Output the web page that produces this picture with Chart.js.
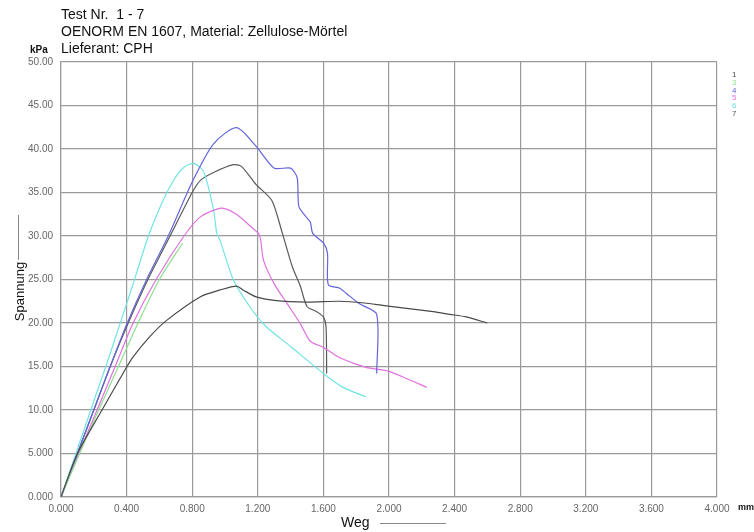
<!DOCTYPE html>
<html>
<head>
<meta charset="utf-8">
<script src="https://cdn.jsdelivr.net/npm/chart.js@4"></script>
<style>
  body { margin: 0; background: #fff; }
  #wrap { position: relative; width: 754px; height: 532px; font-family: "Liberation Sans", Arial, sans-serif; }
  #chart { position: absolute; left: 0; top: 0; }
  .t { position: absolute; white-space: nowrap; color: #111; }
  .leg { position: absolute; left: 732px; font-size: 8px; line-height: 8px; }
</style>
</head>
<body>
<div id="wrap">
  <canvas id="chart" width="754" height="532"></canvas>
  <div class="t" style="left:61px;top:6px;font-size:14px;">Test Nr.&nbsp; 1 - 7</div>
  <div class="t" style="left:61px;top:23px;font-size:14px;">OENORM EN 1607, Material: Zellulose-Mörtel</div>
  <div class="t" style="left:61px;top:40px;font-size:14px;">Lieferant: CPH</div>
  <div class="t" style="left:30px;top:44px;font-size:10px;font-weight:bold;">kPa</div>
  <div class="t" style="left:738px;top:502px;font-size:9px;font-weight:bold;">mm</div>
  <div class="t" style="left:341px;top:514px;font-size:14px;">Weg</div>
  <div style="position:absolute;left:380px;top:523px;width:66px;height:1px;background:#888;"></div>
  <div class="t" style="left:-10px;top:284px;font-size:13px;transform:rotate(-90deg);">Spannung</div>
  <div style="position:absolute;left:18px;top:215px;width:1px;height:45px;background:#888;"></div>
  <div id="legend"></div>
</div>
<script>
// Weg (mm) / Spannung (kPa) pairs
const test1 = [[0,0],[0.1,5],[0.25,10],[0.39,14.6],[0.44,16.1],[0.54,18.4],[0.644,20.3],[0.848,23.0],[0.97,23.8],[1.07,24.25],[1.11,23.8],[1.19,23.0],[1.3,22.6],[1.5,22.4],[1.7,22.5],[1.85,22.3],[1.97,22.0],[2.27,21.3],[2.37,21.0],[2.47,20.7],[2.6,20.0]];
const test3 = [[0,0],[0.1,4.4],[0.23,10],[0.35,15],[0.47,20],[0.6,25],[0.742,29.2]];
const test4 = [[0,0],[0.1,5],[0.2,10],[0.3,15],[0.404,20],[0.522,25],[0.654,30],[0.8,36.2],[0.93,40.6],[1.07,42.45],[1.19,40.3],[1.3,37.8],[1.4,37.8],[1.44,36.7],[1.45,33.4],[1.49,32.3],[1.52,31.6],[1.535,30.3],[1.6,29.2],[1.625,28],[1.63,24.4],[1.7,24.0],[1.74,23.4],[1.82,22.2],[1.925,21.0],[1.925,14.2]];
const test5 = [[0,0],[0.1,4.6],[0.22,10],[0.33,15],[0.44,20],[0.58,25],[0.75,30],[0.85,32.2],[0.98,33.2],[1.07,32.5],[1.15,31.2],[1.21,30.1],[1.235,27.2],[1.3,24.5],[1.38,22.2],[1.46,19.9],[1.52,17.9],[1.6,17.2],[1.7,16.0],[1.86,14.9],[1.99,14.5],[2.11,13.6],[2.23,12.6]];
const test6 = [[0,0],[0.1,5.5],[0.2,11],[0.3,16.5],[0.37,20.5],[0.44,24.5],[0.533,30],[0.62,34],[0.69,36.5],[0.75,37.9],[0.81,38.35],[0.87,37.4],[0.93,33.0],[0.95,30.3],[0.97,29.5],[1.05,25.0],[1.15,21.9],[1.25,19.6],[1.4,17.3],[1.6,14.2],[1.72,12.6],[1.86,11.5]];
const test7 = [[0,0],[0.1,5],[0.2,10],[0.3,15],[0.41,20],[0.53,25],[0.665,30],[0.8,35],[0.85,36.4],[0.93,37.3],[1.05,38.2],[1.1,38.0],[1.19,35.9],[1.285,34.1],[1.35,30.3],[1.41,26.5],[1.46,24.2],[1.5,21.9],[1.56,21.3],[1.6,20.7],[1.616,19.6],[1.62,14.2]];

const testNames = ["1", "3", "4", "5", "6", "7"];
const testData = [test1, test3, test4, test5, test6, test7];
const testColors = ["#4a4a4a", "#8fe08f", "#6464dc", "#e070e0", "#70e4e4", "#5a5a5a"];

const xTicks = [0, 0.4, 0.8, 1.2, 1.6, 2.0, 2.4, 2.8, 3.2, 3.6, 4.0];
const yTicks = [0, 5, 10, 15, 20, 25, 30, 35, 40, 45, 50];

// small coloured legend on the right
const leg = document.getElementById("legend");
testNames.forEach((n, i) => {
  const d = document.createElement("div");
  d.className = "leg";
  d.style.top = (71 + i * 7.8) + "px";
  d.style.color = testColors[i];
  d.textContent = n;
  leg.appendChild(d);
});

const gridColor = "#9a9a9a";
const tickFont = { family: "Liberation Sans", size: 10 };

new Chart(document.getElementById("chart").getContext("2d"), {
  type: "scatter",
  data: {
    datasets: testData.map((pts, i) => ({
      label: testNames[i],
      data: pts.map(p => ({ x: p[0], y: p[1] })),
      showLine: true,
      borderColor: testColors[i],
      borderWidth: 1.2,
      pointRadius: 0,
      tension: 0.25
    }))
  },
  options: {
    responsive: false,
    animation: false,
    layout: { padding: { top: 62, right: 37, left: 0, bottom: 0 } },
    plugins: { legend: { display: false }, tooltip: { enabled: false } },
    scales: {
      x: {
        type: "linear", min: 0, max: 4,
        afterBuildTicks: s => { s.ticks = xTicks.map(v => ({ value: v })); },
        afterFit: s => { s.height = 35; },
        grid: { color: gridColor, lineWidth: 1.2, drawTicks: false },
        border: { color: gridColor, width: 1.2 },
        ticks: { color: "#666", font: tickFont, padding: 6, maxRotation: 0,
                 callback: v => v.toFixed(3) }
      },
      y: {
        type: "linear", min: 0, max: 50,
        afterBuildTicks: s => { s.ticks = yTicks.map(v => ({ value: v })); },
        afterFit: s => { s.width = 61; },
        grid: { color: gridColor, lineWidth: 1.2, drawTicks: false },
        border: { color: gridColor, width: 1.2 },
        ticks: { color: "#666", font: tickFont, padding: 8,
                 callback: v => v >= 10 ? v.toFixed(2) : v.toFixed(3) }
      }
    }
  }
});
</script>
</body>
</html>
